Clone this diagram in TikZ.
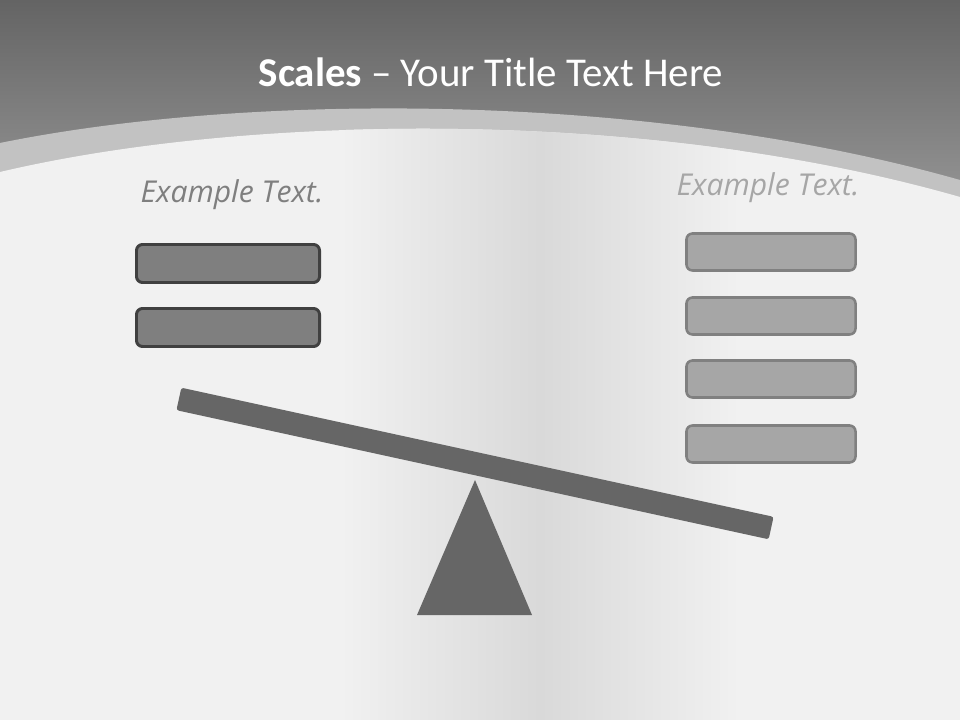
\documentclass[tikz,border=0pt]{standalone}
\usepackage{fontspec}
\setmainfont{Carlito}
\newfontfamily\captionfont{Open Sans}
\usepackage{xcolor}
\usepackage{tikz}
\usetikzlibrary{positioning}
\definecolor{ink}{HTML}{666666}
\definecolor{headtop}{HTML}{646464}
\definecolor{headbot}{HTML}{969696}
\definecolor{bandgray}{HTML}{C2C2C2}
\definecolor{paper}{HTML}{F1F1F1}
\definecolor{papershade}{HTML}{D9D9D9}
\definecolor{darkline}{HTML}{404040}
\definecolor{darkfill}{HTML}{7F7F7F}
\definecolor{lightline}{HTML}{808080}
\definecolor{lightfill}{HTML}{A6A6A6}
\definecolor{darkcap}{HTML}{7F7F7F}
\definecolor{lightcap}{HTML}{A6A6A6}
\tikzset{
  heavybox/.style={rectangle, rounded corners=0.15cm, draw=darkline, fill=darkfill, line width=2.1pt, minimum width=4.575cm, minimum height=0.95cm, inner sep=0pt},
  lightbox/.style={rectangle, rounded corners=0.15cm, draw=lightline, fill=lightfill, line width=1.8pt, minimum width=4.225cm, minimum height=0.925cm, inner sep=0pt},
  caption/.style={font=\captionfont\itshape\fontsize{21.4}{26}\selectfont, anchor=base, inner sep=0pt},
  beam/.style={rectangle, rounded corners=0.06cm, fill=ink, minimum width=15.15cm, minimum height=0.575cm, inner sep=0pt}
}

\begin{document}
\begin{tikzpicture}[x=0.025cm, y=-0.025cm]
  \useasboundingbox (0,0) rectangle (960,720);
  \shade[top color=headtop, bottom color=headbot] (0,0) rectangle (960,210);
  \fill[bandgray] (0,143) .. controls (250,92) and (650,92) .. (960,180)
    -- (960,230) -- (0,230) -- cycle;
  \begin{scope}
    \clip (0,172) .. controls (250,113) and (650,108) .. (960,197)
      -- (960,720) -- (0,720) -- cycle;
    \fill[paper] (0,100) rectangle (960,720);
    \shade[left color=paper, right color=paper, middle color=papershade] (340,100) rectangle (740,720);
  \end{scope}

  \node[anchor=base, text=white, font=\fontsize{29.1}{35}\selectfont] (title) at (491,87) {\textbf{Scales} – Your Title Text Here};

  \node[caption, text=darkcap] (lefthead) at (232,203) {Example Text.};
  \node[caption, text=lightcap] (righthead) at (768,196) {Example Text.};

  \node[heavybox] (l1) at (228,263.5) {};
  \node[heavybox] (l2) at (228,327.5) {};

  \node[lightbox] (r1) at (771,252) {};
  \node[lightbox] (r2) at (771,316) {};
  \node[lightbox] (r3) at (771,379) {};
  \node[lightbox] (r4) at (771,444) {};

  \fill[ink] (475,480) -- (532,615) -- (417,615) -- cycle;
  \node[beam, rotate=-12.3] (beam) at (475,463.5) {};
\end{tikzpicture}
\end{document}
